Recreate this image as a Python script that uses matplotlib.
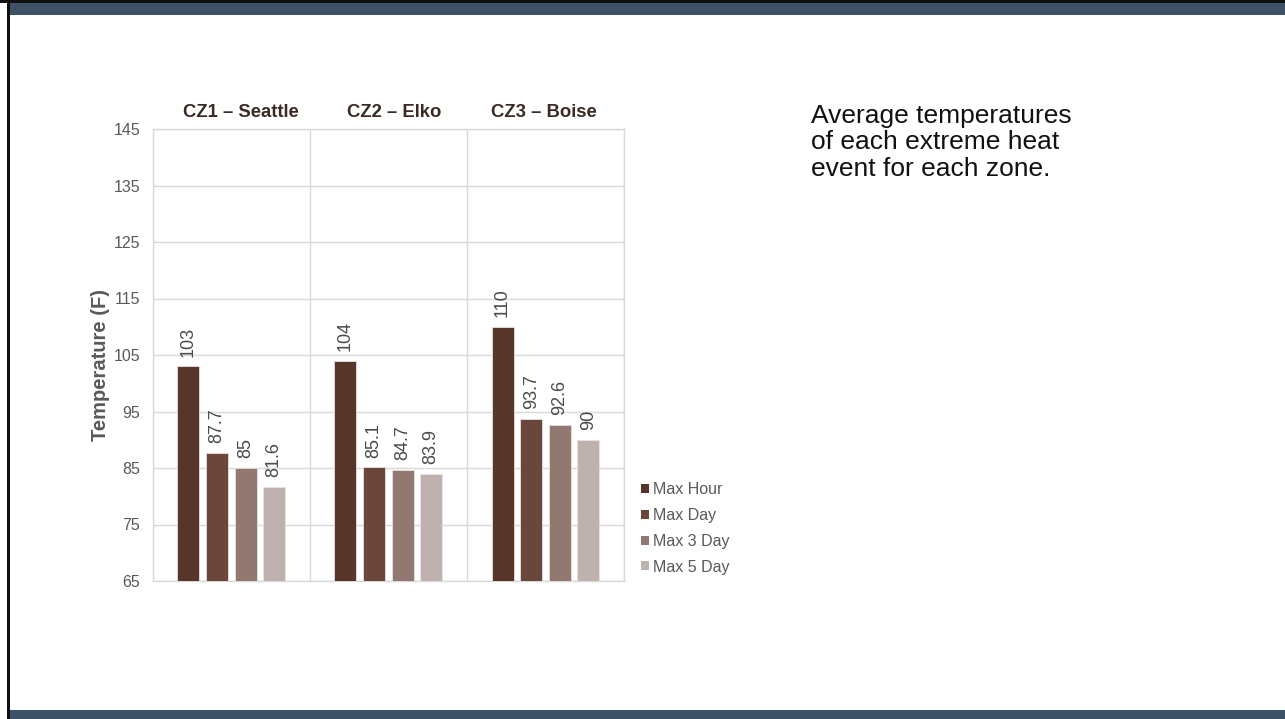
import matplotlib
matplotlib.use("Agg")
import matplotlib.pyplot as plt
from matplotlib.patches import Rectangle, Patch
import numpy as np

plt.rcParams['font.family'] = ['Liberation Sans', 'DejaVu Sans']

# ---- data ----
zones = ["CZ1 \u2013 Seattle", "CZ2 \u2013 Elko", "CZ3 \u2013 Boise"]
series_names = ["Max Hour", "Max Day", "Max 3 Day", "Max 5 Day"]
max_hour = [103, 104, 110]
max_day = [87.7, 85.1, 93.7]
max_3day = [85, 84.7, 92.6]
max_5day = [81.6, 83.9, 90]
series_colors = ["#583529", "#6B463A", "#917870", "#BFB2AE"]
y_ticks = [65, 75, 85, 95, 105, 115, 125, 135, 145]
note_text = "Average temperatures\nof each extreme heat\nevent for each zone."

series_values = [max_hour, max_day, max_3day, max_5day]

W, H = 1285, 719
fig = plt.figure(figsize=(W / 100, H / 100), dpi=100)
fig.patch.set_facecolor("white")

slate = "#3D5167"
# slide frame
fig.patches.append(Rectangle((0, 1 - 3 / H), 1, 3 / H, transform=fig.transFigure,
                             facecolor="#111111", edgecolor="none", zorder=0))
fig.patches.append(Rectangle((10 / W, 1 - 15 / H), 1 - 10 / W, 12 / H, transform=fig.transFigure,
                             facecolor=slate, edgecolor="none", zorder=0))
fig.patches.append(Rectangle((10 / W, 0), 1 - 10 / W, 9 / H, transform=fig.transFigure,
                             facecolor=slate, edgecolor="none", zorder=0))
fig.patches.append(Rectangle((7 / W, 0), 3.5 / W, 1, transform=fig.transFigure,
                             facecolor="#111111", edgecolor="none", zorder=0))

# axes
ax_l, ax_r = 152.7, 624.0
ax_t, ax_b = 129.0, 581.0
ax = fig.add_axes([ax_l / W, 1 - ax_b / H, (ax_r - ax_l) / W, (ax_b - ax_t) / H])

grid_c = "#D9D9D9"
ymin, ymax = y_ticks[0], y_ticks[-1]
ax.set_ylim(ymin, ymax)
ax.set_xlim(0, len(zones))
ax.set_yticks(y_ticks)
ax.set_yticklabels([str(t) for t in y_ticks])
ax.tick_params(axis="y", length=0, pad=9, labelsize=11.5, labelcolor="#595959")
ax.set_xticks([])
ax.yaxis.grid(True, color=grid_c, linewidth=1)
for b in range(len(zones) + 1):
    ax.axvline(b, color=grid_c, linewidth=1, zorder=1)
ax.set_axisbelow(True)
for s in ax.spines.values():
    s.set_color(grid_c)
    s.set_linewidth(1)

centers = np.arange(len(zones)) + 0.5
bar_w = 0.14
pitch = 0.182
n = len(series_values)
for i, (vals, col, name) in enumerate(zip(series_values, series_colors, series_names)):
    xs = centers + (i - (n - 1) / 2) * pitch
    heights = [v - ymin for v in vals]
    ax.bar(xs, heights, width=bar_w, bottom=ymin, color=col, edgecolor="#E8E2E0",
           linewidth=0.6, zorder=3, label=name)
    for x, v in zip(xs, vals):
        ax.annotate(f"{v:g}", (x, v), xytext=(0, 7), textcoords="offset points",
                    rotation=90, ha="center", va="bottom", fontsize=13,
                    color="#4A4A4A", zorder=4)

# zone titles
title_offsets = [0.06, 0.04, -0.01]
for c, z, off in zip(centers, zones, title_offsets):
    ax.text(c + off, 1.036, z, transform=ax.get_xaxis_transform(), ha="center",
            va="center", fontsize=13.3, fontweight="bold", color="#3B2A24")

# y label
fig.text(100 / W, 1 - 364.6 / H, "Temperature (F)", rotation=90, ha="center",
         va="center", fontsize=14.5, fontweight="bold", color="#595959")

# legend
handles = [Patch(facecolor=c, edgecolor="none") for c in series_colors]
fig.legend(handles, series_names, loc="upper left",
           bbox_to_anchor=(641.0 / W, 1 - 482.0 / H), bbox_transform=fig.transFigure,
           frameon=False, fontsize=11.5, labelcolor="#595959", handlelength=0.5,
           handleheight=0.5, handletextpad=0.25, labelspacing=0.68, borderpad=0,
           borderaxespad=0)

# note text
fig.text(810.7 / W, 1 - 104 / H, note_text, ha="left", va="top", fontsize=19,
         color="#111111", linespacing=1.12)

fig.savefig("out.png", dpi=100)
